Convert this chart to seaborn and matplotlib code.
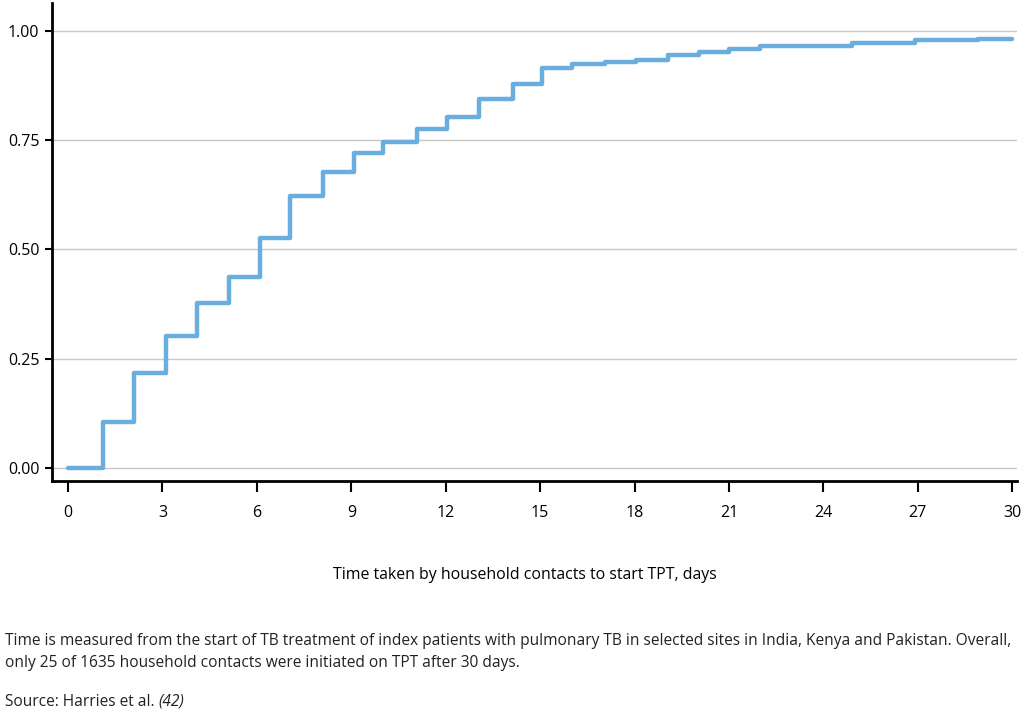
import matplotlib
matplotlib.use("Agg")
import matplotlib.pyplot as plt
import seaborn as sns
import pandas as pd

# Step times (days) and cumulative proportion starting TPT
step_days = [0, 1.1, 2.1, 3.1, 4.1, 5.1, 6.1, 7.05, 8.1, 9.1, 10.0, 11.1, 12.05,
             13.05, 14.15, 15.05, 16.0, 17.05, 18.05, 19.05, 20.05, 21.0, 22.0,
             24.9, 26.9, 28.9, 30.0]
cum_prop = [0.0, 0.105, 0.217, 0.303, 0.377, 0.436, 0.526, 0.623, 0.677, 0.7215,
            0.747, 0.776, 0.8025, 0.844, 0.878, 0.915, 0.9245, 0.929, 0.9336,
            0.944, 0.951, 0.958, 0.965, 0.972, 0.979, 0.982, 0.982]
x_ticks = [0, 3, 6, 9, 12, 15, 18, 21, 24, 27, 30]
y_ticks = [0.0, 0.25, 0.5, 0.75, 1.0]
y_tick_labels = ["0.00", "0.25", "0.50", "0.75", "1.00"]

sns.set_style("white")
plt.rcParams["font.family"] = ["Open Sans", "DejaVu Sans"]

df = pd.DataFrame({"day": step_days, "prop": cum_prop})

fig = plt.figure(figsize=(10.24, 7.12), dpi=100)
ax = fig.add_axes([52 / 1024, 1 - 481 / 712, (1017 - 52) / 1024, (481 - 3) / 712])

for yv in y_ticks:
    ax.axhline(yv, color="#c8c8c8", linewidth=1.0, zorder=0)

sns.lineplot(data=df, x="day", y="prop", drawstyle="steps-post", color="#6aaee0",
             linewidth=3.2, ax=ax, zorder=3)

ax.set_xlim(-0.51, 30.15)
ax.set_ylim(-0.03, 1.064)
ax.set_xticks(x_ticks)
ax.set_xticklabels([str(t) for t in x_ticks], fontsize=11.5, color="black")
ax.set_yticks(y_ticks)
ax.set_yticklabels(y_tick_labels, fontsize=11.5, color="black")
ax.tick_params(axis="x", direction="out", length=8, width=1.5, color="black", pad=9, bottom=True)
ax.tick_params(axis="y", direction="out", length=5, width=1.5, color="black", pad=4, left=True)

for s in ["top", "right"]:
    ax.spines[s].set_visible(False)
for s in ["left", "bottom"]:
    ax.spines[s].set_color("black")
    ax.spines[s].set_linewidth(2.0)

ax.set_xlabel("")
ax.set_ylabel("")

fig.text(0.5127, 1 - 575 / 712, "Time taken by household contacts to start TPT, days",
         ha="center", va="center", fontsize=11.4, color="black")
cap_color = "#222222"
cap_size = 11.2
fig.text(5 / 1024, 1 - 641 / 712,
         "Time is measured from the start of TB treatment of index patients with pulmonary TB in selected sites in India, Kenya and Pakistan. Overall,",
         ha="left", va="center", fontsize=cap_size, color=cap_color)
fig.text(5 / 1024, 1 - 663 / 712,
         "only 25 of 1635 household contacts were initiated on TPT after 30 days.",
         ha="left", va="center", fontsize=cap_size, color=cap_color)
t = fig.text(5 / 1024, 1 - 702 / 712, "Source: Harries et al. ", ha="left", va="center",
             fontsize=cap_size, color=cap_color)
fig.canvas.draw()
bb = t.get_window_extent()
fig.text(bb.x1 / 1024, 1 - 702 / 712, "(42)", ha="left", va="center", fontsize=cap_size,
         color=cap_color, style="italic")

fig.savefig("out.png", dpi=100)
